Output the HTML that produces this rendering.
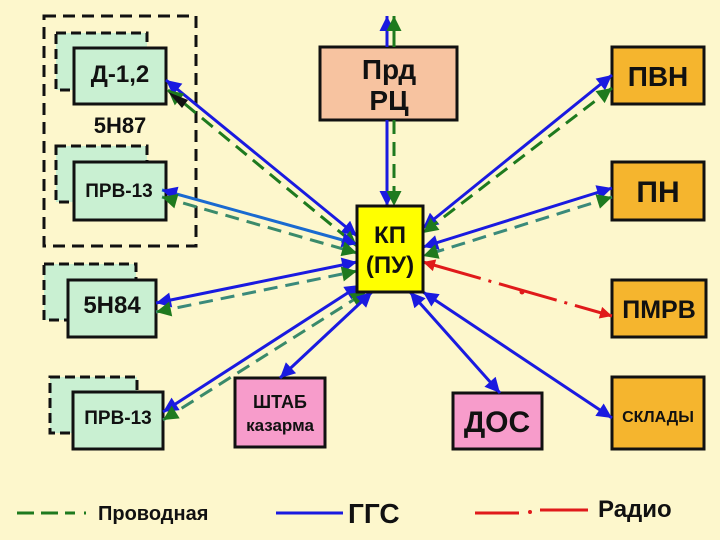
<!DOCTYPE html>
<html><head><meta charset="utf-8"><style>
html,body{margin:0;padding:0;background:#fdf7cc;}
svg{display:block;}
text{font-family:"Liberation Sans","DejaVu Sans",sans-serif;font-weight:bold;fill:#111;}
</style></head><body>
<svg width="720" height="540" viewBox="0 0 720 540" xmlns="http://www.w3.org/2000/svg">
<defs>
<marker id="ab" viewBox="0 0 10 10" refX="10" refY="5" markerWidth="7" markerHeight="5" orient="auto-start-reverse" markerUnits="strokeWidth"><path d="M0,0L10,5L0,10z" fill="#1a1ae0"/></marker>
<marker id="ag" viewBox="0 0 10 10" refX="10" refY="5" markerWidth="7" markerHeight="5" orient="auto-start-reverse" markerUnits="strokeWidth"><path d="M0,0L10,5L0,10z" fill="#1e7a1e"/></marker>
<marker id="ar" viewBox="0 0 10 10" refX="10" refY="5" markerWidth="6" markerHeight="4" orient="auto-start-reverse" markerUnits="strokeWidth"><path d="M0,0L10,5L0,10z" fill="#e01a1a"/></marker>
</defs>
<rect width="720" height="540" fill="#fdf7cc"/>
<!-- outer dashed group -->
<rect x="44" y="16" width="152" height="230" fill="none" stroke="#111" stroke-width="3" stroke-dasharray="12,7"/>
<!-- Д-1,2 -->
<rect x="56" y="33" width="91" height="57" fill="#c9f0d2" stroke="#111" stroke-width="3" stroke-dasharray="10,5"/>
<rect x="74" y="48" width="92" height="56" fill="#c9f0d2" stroke="#111" stroke-width="3"/>
<text x="120" y="82" font-size="24" text-anchor="middle">Д-1,2</text>
<text x="120" y="133" font-size="22" text-anchor="middle">5Н87</text>
<!-- ПРВ-13 top -->
<rect x="56" y="146" width="91" height="56" fill="#c9f0d2" stroke="#111" stroke-width="3" stroke-dasharray="10,5"/>
<rect x="74" y="162" width="92" height="58" fill="#c9f0d2" stroke="#111" stroke-width="3"/>
<text x="119" y="197" font-size="19" text-anchor="middle">ПРВ-13</text>
<!-- 5Н84 -->
<rect x="44" y="264" width="92" height="56" fill="#c9f0d2" stroke="#111" stroke-width="3" stroke-dasharray="10,5"/>
<rect x="68" y="280" width="88" height="57" fill="#c9f0d2" stroke="#111" stroke-width="3"/>
<text x="112" y="313" font-size="24" text-anchor="middle">5Н84</text>
<!-- ПРВ-13 bottom -->
<rect x="50" y="377" width="87" height="56" fill="#c9f0d2" stroke="#111" stroke-width="3" stroke-dasharray="10,5"/>
<rect x="73" y="392" width="90" height="57" fill="#c9f0d2" stroke="#111" stroke-width="3"/>
<text x="118" y="424" font-size="19" text-anchor="middle">ПРВ-13</text>
<!-- Прд РЦ -->
<rect x="320" y="47" width="137" height="73" fill="#f7c3a0" stroke="#111" stroke-width="3"/>
<text x="389" y="79" font-size="28" text-anchor="middle">Прд</text>
<text x="389" y="110" font-size="28" text-anchor="middle">РЦ</text>
<!-- right boxes -->
<rect x="612" y="47" width="92" height="57" fill="#f5b52e" stroke="#111" stroke-width="3"/>
<text x="658" y="86" font-size="28" text-anchor="middle">ПВН</text>
<rect x="612" y="162" width="92" height="58" fill="#f5b52e" stroke="#111" stroke-width="3"/>
<text x="658" y="202" font-size="30" text-anchor="middle">ПН</text>
<rect x="612" y="280" width="94" height="57" fill="#f5b52e" stroke="#111" stroke-width="3"/>
<text x="659" y="318" font-size="25" text-anchor="middle">ПМРВ</text>
<rect x="612" y="377" width="92" height="72" fill="#f5b52e" stroke="#111" stroke-width="3"/>
<text x="658" y="422" font-size="16" text-anchor="middle">СКЛАДЫ</text>
<!-- pink -->
<rect x="235" y="378" width="90" height="69" fill="#f79ccb" stroke="#111" stroke-width="3"/>
<text x="280" y="408" font-size="18" text-anchor="middle">ШТАБ</text>
<text x="280" y="431" font-size="17" text-anchor="middle" font-weight="normal">казарма</text>
<rect x="453" y="393" width="89" height="56" fill="#f79ccb" stroke="#111" stroke-width="3"/>
<text x="497" y="432" font-size="30" text-anchor="middle">ДОС</text>
<!-- connectors -->
<g fill="none" stroke-width="3">
<line x1="166" y1="80" x2="357" y2="236" stroke="#1a1ae0" marker-start="url(#ab)" marker-end="url(#ab)"/>
<line x1="168" y1="90" x2="357" y2="246" stroke="#1e7a1e" stroke-dasharray="14,8" marker-start="url(#ag)" marker-end="url(#ag)"/>
<line x1="162" y1="190" x2="357" y2="244" stroke="#1a6ad0" marker-start="url(#ab)" marker-end="url(#ab)"/>
<line x1="162" y1="197" x2="357" y2="253" stroke="#3a8a6a" stroke-dasharray="14,8" marker-start="url(#ag)" marker-end="url(#ag)"/>
<line x1="156" y1="303" x2="357" y2="262" stroke="#1a1ae0" marker-start="url(#ab)" marker-end="url(#ab)"/>
<line x1="156" y1="312" x2="357" y2="271" stroke="#3a8a7a" stroke-dasharray="14,8" marker-start="url(#ag)" marker-end="url(#ag)"/>
<line x1="163" y1="412" x2="360" y2="285" stroke="#1a1ae0" marker-start="url(#ab)" marker-end="url(#ab)"/>
<line x1="163" y1="420" x2="366" y2="292" stroke="#3a8a6a" stroke-dasharray="14,8" marker-start="url(#ag)" marker-end="url(#ag)"/>
<line x1="280" y1="378" x2="372" y2="292" stroke="#1a1ae0" marker-start="url(#ab)" marker-end="url(#ab)"/>
<line x1="500" y1="393" x2="410" y2="292" stroke="#1a1ae0" marker-start="url(#ab)" marker-end="url(#ab)"/>
<line x1="612" y1="418" x2="423" y2="292" stroke="#1a1ae0" marker-start="url(#ab)" marker-end="url(#ab)"/>
<line x1="612" y1="75" x2="423" y2="228" stroke="#1a1ae0" marker-start="url(#ab)" marker-end="url(#ab)"/>
<line x1="612" y1="88" x2="423" y2="233" stroke="#1e7a1e" stroke-dasharray="14,8" marker-start="url(#ag)" marker-end="url(#ag)"/>
<line x1="612" y1="188" x2="423" y2="247" stroke="#1a1ae0" marker-start="url(#ab)" marker-end="url(#ab)"/>
<line x1="612" y1="197" x2="423" y2="256" stroke="#3a8a7a" stroke-dasharray="14,8" marker-start="url(#ag)" marker-end="url(#ag)"/>
<line x1="423" y1="262" x2="612" y2="316" stroke="#e01a1a" stroke-dasharray="60,8,3,8" marker-start="url(#ar)" marker-end="url(#ar)"/>
<line x1="387" y1="120" x2="387" y2="206" stroke="#1a1ae0" marker-end="url(#ab)"/>
<line x1="394" y1="120" x2="394" y2="206" stroke="#1e7a1e" stroke-dasharray="14,8" marker-end="url(#ag)"/>
<line x1="387" y1="47" x2="387" y2="16" stroke="#1a1ae0" marker-end="url(#ab)"/>
<line x1="394" y1="47" x2="394" y2="16" stroke="#1e7a1e" marker-end="url(#ag)"/>
</g>
<circle cx="522" cy="292" r="2.5" fill="#e01a1a"/>
<path d="M168,92 L188,100 L182,108z" fill="#111"/>
<!-- КП -->
<rect x="357" y="206" width="66" height="86" fill="#ffff00" stroke="#111" stroke-width="3"/>
<text x="390" y="243" font-size="24" text-anchor="middle">КП</text>
<text x="390" y="273" font-size="24" text-anchor="middle">(ПУ)</text>
<!-- legend -->
<g stroke-width="3">
<line x1="17" y1="513" x2="75" y2="513" stroke="#1e7a1e" stroke-dasharray="17,7"/>
<line x1="84" y1="513" x2="86" y2="513" stroke="#1e7a1e"/>
<line x1="276" y1="513" x2="343" y2="513" stroke="#1a1ae0"/>
<line x1="475" y1="513" x2="519" y2="513" stroke="#e01a1a"/>
<line x1="540" y1="510" x2="588" y2="510" stroke="#e01a1a"/>
</g>
<circle cx="530" cy="512" r="2" fill="#e01a1a"/>
<text x="98" y="520" font-size="20" font-weight="normal">Проводная</text>
<text x="348" y="523" font-size="28">ГГС</text>
<text x="598" y="517" font-size="24" font-weight="normal">Радио</text>
</svg>
</body></html>
